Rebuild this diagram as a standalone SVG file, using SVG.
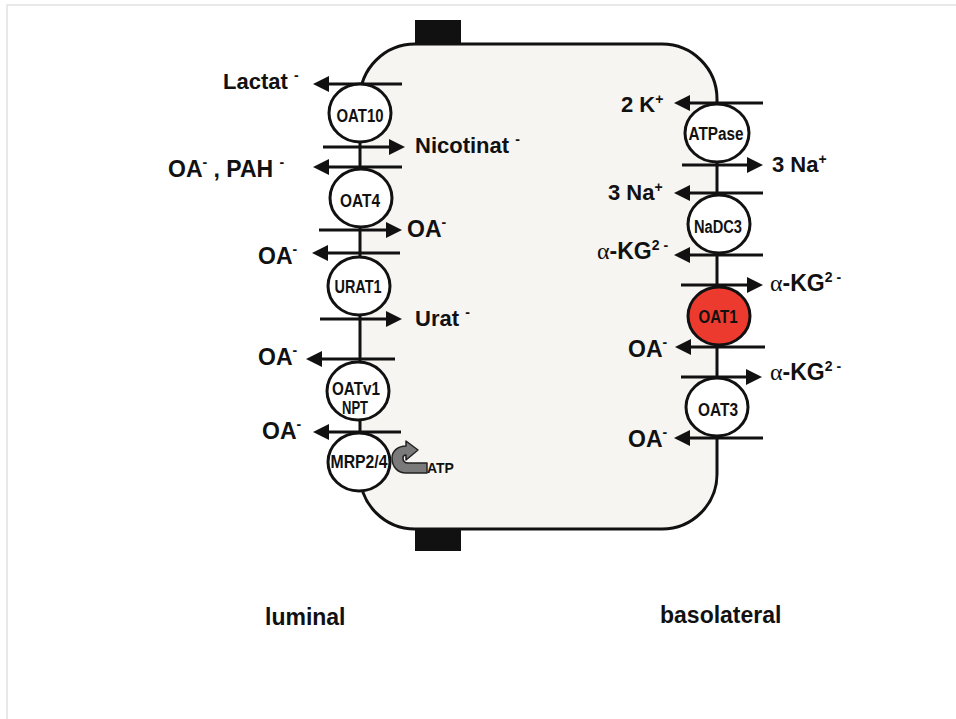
<svg xmlns="http://www.w3.org/2000/svg" width="956" height="719" viewBox="0 0 956 719">
<style>
.lbl{font-family:"Liberation Sans",Arial,sans-serif;font-weight:bold;font-size:22px;fill:#111}
.big{font-size:23px}
.sup{font-size:14px}
.alpha{font-family:"Liberation Serif","Times New Roman",serif;font-weight:normal;font-size:24px}
.ct{font-family:"Liberation Sans",Arial,sans-serif;font-weight:bold;font-size:18px;fill:#111;text-anchor:middle}
.tr{fill:#fff;stroke:#111;stroke-width:3}
.ar{stroke:#111;stroke-width:3;fill:none}
.arL{marker-start:url(#hL)}
.arR{marker-end:url(#hR)}
</style>
<defs>
<marker id="hR" markerUnits="userSpaceOnUse" markerWidth="18" markerHeight="18" refX="5" refY="8" orient="0">
<path d="M0,0 L16,8 L0,16 Z" fill="#111"/>
</marker>
<marker id="hL" markerUnits="userSpaceOnUse" markerWidth="18" markerHeight="18" refX="11" refY="8" orient="0">
<path d="M16,0 L0,8 L16,16 Z" fill="#111"/>
</marker>
</defs>
<rect width="956" height="719" fill="#fff"/>
<path d="M7,719 L7,5 L956,5" fill="none" stroke="#e2e2e2" stroke-width="1.5"/>

<g id="cell">
<rect x="415" y="20" width="46" height="25" fill="#111"/>
<rect x="415" y="528" width="46" height="23" fill="#111"/>
<rect x="360" y="44" width="357" height="485" rx="55" ry="55" fill="#f6f5f1" stroke="#111" stroke-width="3"/>
</g>

<g id="connectors">
<line class="ar arL" x1="324" y1="84" x2="402" y2="84"/>
<line class="ar arR" x1="323" y1="147" x2="394" y2="147"/>
<line class="ar arL" x1="324" y1="167" x2="402" y2="167"/>
<line class="ar arR" x1="319" y1="230" x2="391" y2="230"/>
<line class="ar arL" x1="323" y1="253" x2="400" y2="253"/>
<line class="ar arR" x1="320" y1="319" x2="391" y2="319"/>
<line class="ar arL" x1="317" y1="359" x2="395" y2="359"/>
<line class="ar arL" x1="324" y1="432" x2="401" y2="432"/>
<line class="ar arL" x1="685" y1="103" x2="763" y2="103"/>
<line class="ar arR" x1="682" y1="165" x2="752" y2="165"/>
<line class="ar arL" x1="685" y1="193" x2="763" y2="193"/>
<line class="ar arL" x1="685" y1="255" x2="763" y2="255"/>
<line class="ar arR" x1="681" y1="285" x2="752" y2="285"/>
<line class="ar arL" x1="686" y1="347" x2="765" y2="347"/>
<line class="ar arR" x1="681" y1="377" x2="751" y2="377"/>
<line class="ar arL" x1="685" y1="438" x2="763" y2="438"/>
<path d="M427,463 L408,463 C404,463 403,461 403,458 C403,456 404,455 406,455 L406,460 L418,450 L406,441 L406,446 C398,446 392,451 392,458 C392,467 398,473 406,473 L427,473 Z" fill="#7a7a7a" stroke="#222" stroke-width="1.5" stroke-linejoin="round"/>
</g>

<g id="OAT10"><ellipse class="tr" cx="360" cy="113" rx="31" ry="29"/><text class="ct" x="360" y="122" textLength="47" lengthAdjust="spacingAndGlyphs">OAT10</text></g>
<g id="OAT4"><ellipse class="tr" cx="361" cy="198" rx="31" ry="29"/><text class="ct" x="360" y="207" textLength="40" lengthAdjust="spacingAndGlyphs">OAT4</text></g>
<g id="URAT1"><ellipse class="tr" cx="359" cy="286" rx="31" ry="29"/><text class="ct" x="358" y="293" textLength="47" lengthAdjust="spacingAndGlyphs">URAT1</text></g>
<g id="OATv1"><ellipse class="tr" cx="358" cy="391" rx="31" ry="29"/><text class="ct" x="356" y="395" textLength="48" lengthAdjust="spacingAndGlyphs">OATv1</text><text class="ct" x="355" y="414" textLength="26" lengthAdjust="spacingAndGlyphs">NPT</text></g>
<g id="MRP2-4"><ellipse class="tr" cx="359" cy="462" rx="31" ry="29"/><text class="ct" x="359" y="468" textLength="57" lengthAdjust="spacingAndGlyphs">MRP2/4</text></g>

<g id="ATPase"><ellipse class="tr" cx="717" cy="133" rx="32" ry="29"/><text class="ct" x="716" y="140" textLength="55" lengthAdjust="spacingAndGlyphs">ATPase</text></g>
<g id="NaDC3"><ellipse class="tr" cx="719" cy="224" rx="31" ry="29"/><text class="ct" x="718" y="233" textLength="48" lengthAdjust="spacingAndGlyphs">NaDC3</text></g>
<g id="OAT1"><ellipse cx="719" cy="316" rx="31" ry="29" fill="#ec3a2e" stroke="#111" stroke-width="3"/><text class="ct" x="718" y="323" textLength="39" lengthAdjust="spacingAndGlyphs">OAT1</text></g>
<g id="OAT3"><ellipse class="tr" cx="717" cy="407" rx="31" ry="29"/><text class="ct" x="718" y="416" textLength="40" lengthAdjust="spacingAndGlyphs">OAT3</text></g>

<g id="labels">
<text class="lbl" x="223" y="89">Lactat <tspan class="sup" dy="-9">-</tspan></text>
<text class="lbl" x="415" y="153">Nicotinat <tspan class="sup" dy="-9">-</tspan></text>
<text class="lbl big" x="168" y="177">OA<tspan class="sup" dy="-10">-</tspan><tspan dy="10"> , PAH </tspan><tspan class="sup" dy="-10">-</tspan></text>
<text class="lbl big" x="407" y="237">OA<tspan class="sup" dy="-10">-</tspan></text>
<text class="lbl big" x="258" y="264">OA<tspan class="sup" dy="-10">-</tspan></text>
<text class="lbl" x="415" y="326">Urat <tspan class="sup" dy="-9">-</tspan></text>
<text class="lbl big" x="258" y="365">OA<tspan class="sup" dy="-10">-</tspan></text>
<text class="lbl big" x="262" y="439">OA<tspan class="sup" dy="-10">-</tspan></text>
<text class="lbl" x="427" y="473" style="font-size:14px">ATP</text>
<text class="lbl" x="621" y="112">2 K<tspan class="sup" dy="-8">+</tspan></text>
<text class="lbl" x="772" y="172">3 Na<tspan class="sup" dy="-8">+</tspan></text>
<text class="lbl" x="608" y="200">3 Na<tspan class="sup" dy="-8">+</tspan></text>
<text class="lbl big" x="597" y="259"><tspan class="alpha">α</tspan>-KG<tspan class="sup" dy="-9">2 -</tspan></text>
<text class="lbl big" x="770" y="291"><tspan class="alpha">α</tspan>-KG<tspan class="sup" dy="-9">2 -</tspan></text>
<text class="lbl big" x="628" y="357">OA<tspan class="sup" dy="-10">-</tspan></text>
<text class="lbl big" x="770" y="380"><tspan class="alpha">α</tspan>-KG<tspan class="sup" dy="-9">2 -</tspan></text>
<text class="lbl big" x="628" y="447">OA<tspan class="sup" dy="-10">-</tspan></text>
<text class="lbl" x="265" y="625" style="font-size:23px">luminal</text>
<text class="lbl" x="660" y="623" style="font-size:23px">basolateral</text>
</g>
</svg>
